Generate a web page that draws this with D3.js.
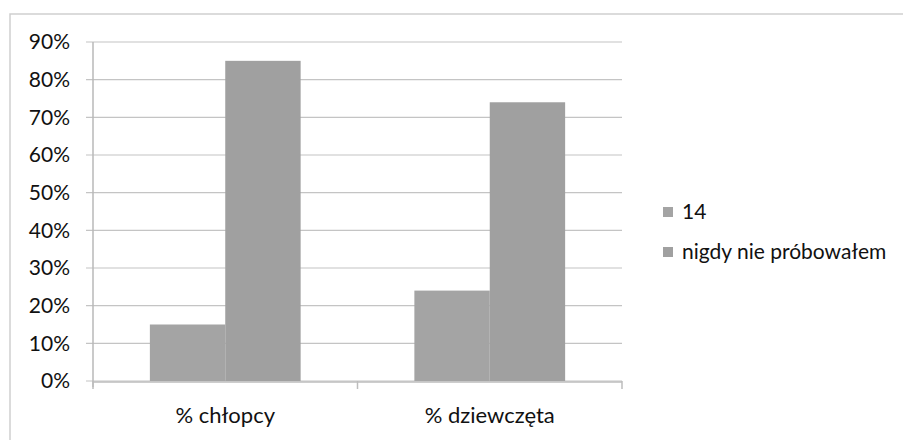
<!DOCTYPE html>
<html><head><meta charset="utf-8">
<script src="https://cdn.jsdelivr.net/npm/d3@7"></script>
<style>body{margin:0;background:#fff}svg{display:block}text{font-family:Lato,"Open Sans",sans-serif;fill:#111}</style>
</head><body><svg id="c" width="904" height="441"></svg>
<script>
const categories = ["% chłopcy", "% dziewczęta"];
const seriesNames = ["14", "nigdy nie próbowałem"];
const series14 = [15, 24];
const seriesNigdy = [85, 74];
const yTicks = [0, 10, 20, 30, 40, 50, 60, 70, 80, 90];

const svg = d3.select("#c");
const mLeft = 93, mRight = 622, mTop = 42, mBottom = 381;
const y = d3.scaleLinear().domain([0, 90]).range([mBottom, mTop]);
const x0 = d3.scaleBand().domain(categories).range([mLeft, mRight]).paddingInner(0.43).paddingOuter(0.215);
const x1 = d3.scaleBand().domain(seriesNames).range([0, x0.bandwidth()]);
const colors = d3.scaleOrdinal().domain(seriesNames).range(["#a4a4a4", "#a0a0a0"]);

// frame
svg.append("path").attr("d", "M10,440 L10,14 L903,14").attr("fill", "none").attr("stroke", "#cfcfcf").attr("stroke-width", 1.5);

// gridlines
svg.append("g").selectAll("line").data(yTicks).join("line")
  .attr("x1", mLeft - 7).attr("x2", mRight).attr("y1", d => y(d)).attr("y2", d => y(d))
  .attr("stroke", "#c4c4c4").attr("stroke-width", 1.2);

// y labels
const yAxis = d3.axisLeft(y).tickValues(yTicks).tickFormat(d => d + "%").tickSize(0).tickPadding(23);
const ga = svg.append("g").attr("transform", `translate(${mLeft},0)`).call(yAxis);
ga.select(".domain").remove();
ga.selectAll("text").attr("font-size", 21).attr("fill", "#111").attr("font-family", "Lato");

// y axis line
svg.append("line").attr("x1", mLeft).attr("x2", mLeft).attr("y1", mTop).attr("y2", mBottom + 6).attr("stroke", "#b8b8b8").attr("stroke-width", 1.5);

// bars
const data = categories.map((c, i) => ({c, vals: [{s: seriesNames[0], v: series14[i]}, {s: seriesNames[1], v: seriesNigdy[i]}]}));
svg.append("g").selectAll("g").data(data).join("g")
  .attr("transform", d => `translate(${x0(d.c)},0)`)
  .selectAll("rect").data(d => d.vals).join("rect")
  .attr("x", d => x1(d.s)).attr("width", x1.bandwidth())
  .attr("y", d => y(d.v)).attr("height", d => y(0) - y(d.v))
  .attr("fill", d => colors(d.s));

// x axis
const xAxis = d3.axisBottom(x0).tickSize(0).tickPadding(26);
const gx = svg.append("g").attr("transform", `translate(0,${mBottom})`).call(xAxis);
gx.select(".domain").remove();
gx.selectAll("text").attr("font-size", 22).attr("fill", "#111").attr("font-family", "Lato");
svg.append("line").attr("x1", mLeft).attr("x2", mRight).attr("y1", mBottom + 1).attr("y2", mBottom + 1).attr("stroke", "#bdbdbd").attr("stroke-width", 1.5);
svg.append("g").selectAll("line").data([mLeft, x0.range()[0] + x0.step() * 1, mRight]).join("line")
  .attr("x1", d => d).attr("x2", d => d).attr("y1", mBottom).attr("y2", mBottom + 8)
  .attr("stroke", "#bdbdbd").attr("stroke-width", 1.5);

// legend
const lg = svg.append("g").selectAll("g").data(seriesNames).join("g")
  .attr("transform", (d, i) => `translate(663,${212 + i * 40})`);
lg.append("rect").attr("x", 0).attr("y", -5).attr("width", 10).attr("height", 10).attr("fill", d => colors(d));
lg.append("text").attr("x", 19).attr("y", 0).attr("dy", "0.35em").attr("font-size", 21).text(d => d);
</script></body></html>
